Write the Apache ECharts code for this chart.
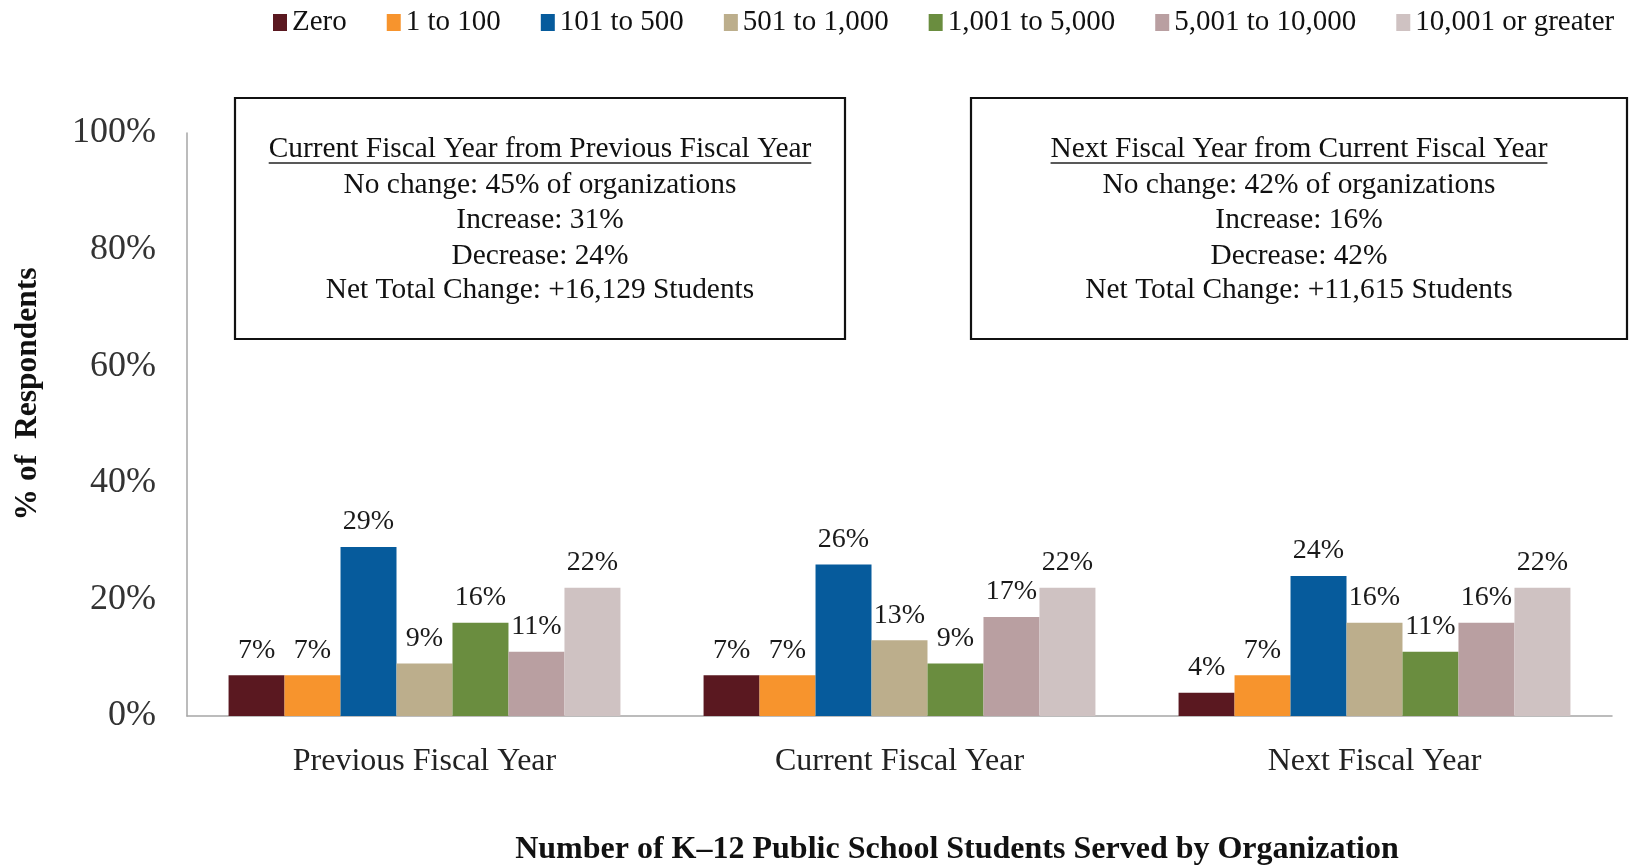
<!DOCTYPE html>
<html>
<head>
<meta charset="utf-8">
<script src="https://cdn.jsdelivr.net/npm/echarts@6/dist/echarts.min.js"></script>
<style>
  html, body { margin: 0; padding: 0; background: #fff; }
  #chart { width: 1629px; height: 866px; }
</style>
</head>
<body>
<div id="chart"></div>
<script>
// categories and series (percent of respondents)
const years = ['Previous Fiscal Year', 'Current Fiscal Year', 'Next Fiscal Year']
const bands = ['Zero', '1 to 100', '101 to 500', '501 to 1,000', '1,001 to 5,000', '5,001 to 10,000', '10,001 or greater']
const zero = [7, 7, 4]
const upTo100 = [7, 7, 7]
const upTo500 = [29, 26, 24]
const upTo1000 = [9, 13, 16]
const upTo5000 = [16, 9, 11]
const upTo10000 = [11, 17, 16]
const over10000 = [22, 22, 22]
const yTicks = [0, 20, 40, 60, 80, 100]

const boxLeft = [
  'Current Fiscal Year from Previous Fiscal Year',
  'No change: 45% of organizations',
  'Increase: 31%',
  'Decrease: 24%',
  'Net Total Change: +16,129 Students'
]
const boxRight = [
  'Next Fiscal Year from Current Fiscal Year',
  'No change: 42% of organizations',
  'Increase: 16%',
  'Decrease: 42%',
  'Net Total Change: +11,615 Students'
]

const colors = ['#5a1820', '#f7942d', '#065b9c', '#bcae8c', '#6a8d3f', '#b99fa1', '#cfc2c2']
const serif = '"Liberation Serif", "Times New Roman", serif'

const chart = echarts.init(document.getElementById('chart'))

const measure = document.createElement('canvas').getContext('2d')
const textWidth = (txt, font) => {
  measure.font = font
  return measure.measureText(txt).width
}

const boxFont = '29.4px ' + serif
const lineYs = [149, 185, 220, 256, 290]

const buildBox = (lines, x, y, w, h) => {
  const cx = x + w / 2
  const items = [{
    type: 'rect',
    shape: { x: x, y: y, width: w, height: h },
    style: { fill: '#fff', stroke: '#111', lineWidth: 2.2 }
  }]
  lines.forEach((txt, i) => {
    items.push({
      type: 'text',
      x: cx,
      y: lineYs[i],
      style: {
        text: txt,
        font: boxFont,
        fill: '#111',
        align: 'center',
        verticalAlign: 'middle'
      }
    })
  })
  const tw = textWidth(lines[0], boxFont)
  items.push({
    type: 'line',
    shape: { x1: cx - tw / 2, y1: lineYs[0] + 14, x2: cx + tw / 2, y2: lineYs[0] + 14 },
    style: { stroke: '#222', lineWidth: 1.5 }
  })
  return items
}

const seriesData = [zero, upTo100, upTo500, upTo1000, upTo5000, upTo10000, over10000]

const option = {
  animation: false,
  color: colors,
  legend: {
    data: bands,
    left: 268,
    top: 3,
    itemWidth: 14,
    itemHeight: 17,
    itemGap: 40,
    icon: 'rect',
    textStyle: { fontFamily: serif, fontSize: 29, color: '#111' }
  },
  grid: { left: 187, right: 17, top: 133, bottom: 150 },
  xAxis: {
    type: 'category',
    data: years,
    axisTick: { show: false },
    axisLine: { lineStyle: { color: '#a6a6a6', width: 1.5 } },
    axisLabel: { fontFamily: serif, fontSize: 32, color: '#222', margin: 30 }
  },
  yAxis: {
    type: 'value',
    min: yTicks[0],
    max: yTicks[yTicks.length - 1],
    interval: yTicks[1] - yTicks[0],
    splitLine: { show: false },
    axisTick: { show: false },
    axisLine: { show: true, lineStyle: { color: '#a6a6a6', width: 1.5 } },
    axisLabel: { fontFamily: serif, fontSize: 36, color: '#333', margin: 31, formatter: '{value}%' }
  },
  series: bands.map((name, i) => ({
    name: name,
    type: 'bar',
    data: seriesData[i],
    barGap: '0%',
    barCategoryGap: '17.5%',
    label: {
      show: true,
      position: 'top',
      distance: 11,
      fontFamily: serif,
      fontSize: 28,
      color: '#1a1a1a',
      formatter: p => p.value + '%'
    }
  })),
  graphic: [
    ...buildBox(boxLeft, 235, 98, 610, 241),
    ...buildBox(boxRight, 971, 98, 656, 241),
    {
      type: 'text',
      x: 28,
      y: 394,
      rotation: Math.PI / 2,
      style: {
        text: '% of  Respondents',
        font: 'bold 31.5px ' + serif,
        fill: '#111',
        align: 'center',
        verticalAlign: 'middle'
      }
    },
    {
      type: 'text',
      x: 957,
      y: 850,
      style: {
        text: 'Number of K\u201312 Public School Students Served by Organization',
        font: 'bold 32px ' + serif,
        fill: '#111',
        align: 'center',
        verticalAlign: 'middle'
      }
    }
  ]
}

chart.setOption(option)
</script>
</body>
</html>
